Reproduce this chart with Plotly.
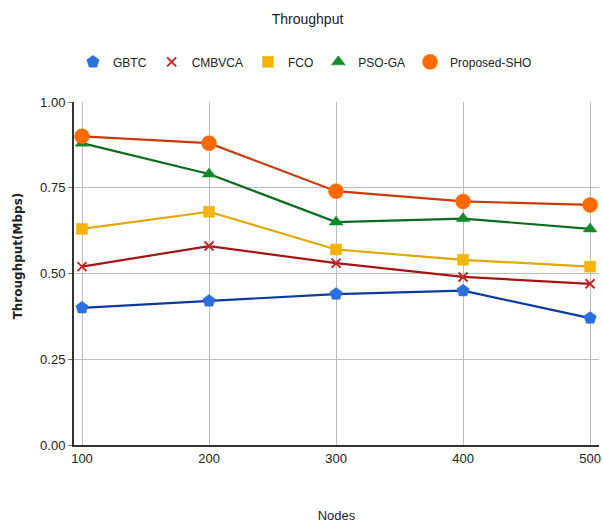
import plotly.graph_objects as go

nodes = [100, 200, 300, 400, 500]
gbtc = [0.40, 0.42, 0.44, 0.45, 0.37]
cmbvca = [0.52, 0.58, 0.53, 0.49, 0.47]
fco = [0.63, 0.68, 0.57, 0.54, 0.52]
pso_ga = [0.88, 0.79, 0.65, 0.66, 0.63]
proposed_sho = [0.90, 0.88, 0.74, 0.71, 0.70]

FONT = "Liberation Sans, Arial, sans-serif"

series = [
    ("GBTC", gbtc, "#0b3a9e", "#2b6fe0", "pentagon", 13),
    ("CMBVCA", cmbvca, "#a31515", "#c62828", "x-thin", 9),
    ("FCO", fco, "#e0a800", "#f4b400", "square", 11),
    ("PSO-GA", pso_ga, "#0d6b1f", "#138a2a", "triangle-up", 12),
    ("Proposed-SHO", proposed_sho, "#c83a0a", "#ff6a00", "circle", 15),
]

fig = go.Figure()
for name, vals, line_c, mark_c, sym, size in series:
    marker = dict(symbol=sym, size=size, color=mark_c,
                  line=dict(color=mark_c, width=2 if sym == "x-thin" else 0.5))
    fig.add_trace(go.Scatter(
        x=nodes, y=vals, name=name, mode="lines+markers",
        line=dict(color=line_c, width=2.2), marker=marker,
        showlegend=False,
    ))
    # legend entry shows the marker only
    fig.add_trace(go.Scatter(
        x=[None], y=[None], name=name, mode="markers", marker=marker,
        showlegend=True, hoverinfo="skip",
    ))

# rotated y-axis title, placed as an annotation so it can sit slightly above centre
fig.add_annotation(
    text="<b>Throughput(Mbps)</b>", textangle=-90,
    xref="paper", yref="paper", x=-0.106, y=0.551,
    xanchor="center", yanchor="middle", showarrow=False,
    font=dict(family="DejaVu Sans, sans-serif", size=12, color="#222"),
)

fig.update_layout(
    width=603, height=527,
    margin=dict(l=74, r=2, t=102, b=82),
    paper_bgcolor="white", plot_bgcolor="white",
    font=dict(family=FONT, size=13, color="#222"),
    title=dict(text="Throughput", x=0.51, xanchor="center", y=0.964, yanchor="middle",
               font=dict(family=FONT, size=14, color="#222")),
    legend=dict(orientation="h", x=0.44, xanchor="center", y=1.117, yanchor="middle",
                font=dict(family=FONT, size=12, color="#222"),
                itemwidth=30, itemsizing="trace", tracegroupgap=0),
    xaxis=dict(
        range=[93.7, 507], tickvals=nodes, ticktext=[str(n) for n in nodes],
        showgrid=True, gridcolor="#bdbdbd", gridwidth=1,
        showline=True, linecolor="#333", linewidth=2,
        zeroline=False, ticks="",
        tickfont=dict(family=FONT, size=13, color="#222"),
        title=dict(text="Nodes", standoff=46, font=dict(family=FONT, size=13, color="#222")),
    ),
    yaxis=dict(
        range=[0, 1.0], tickvals=[0, 0.25, 0.5, 0.75, 1.0],
        ticktext=["0.00", "0.25", "0.50", "0.75", "1.00"],
        showgrid=True, gridcolor="#bdbdbd", gridwidth=1,
        showline=True, linecolor="#333", linewidth=2,
        zeroline=False, ticks="outside", ticklen=4, tickcolor="#777",
        tickfont=dict(family=FONT, size=13, color="#222"),
    ),
)

fig.write_html("out.html")
